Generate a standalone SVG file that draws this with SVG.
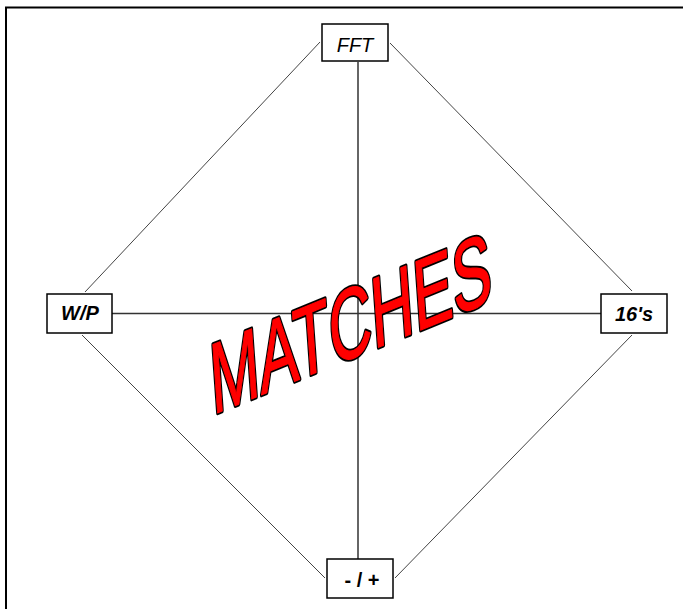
<svg xmlns="http://www.w3.org/2000/svg" width="683" height="609" viewBox="0 0 683 609">
<style>
.box{fill:#fff;stroke:#000;stroke-width:1.5}
.lbl{font-family:"Liberation Sans",Arial,sans-serif;font-size:20px;text-anchor:middle;fill:#000}
.diag{stroke:#444;stroke-width:1;fill:none}
.axis{stroke:#333;stroke-width:1.5;fill:none}
.big{font-family:"Liberation Sans",Arial,sans-serif;font-size:100px;vector-effect:non-scaling-stroke;stroke-linejoin:round}
</style>
<rect width="683" height="609" fill="#fff"/>
<path d="M6,609 V7.5 H683" fill="none" stroke="#000" stroke-width="2"/>
<g id="connectors">
<line class="diag" x1="320" y1="42" x2="85" y2="292"/>
<line class="diag" x1="390" y1="43" x2="632" y2="291"/>
<line class="diag" x1="82" y1="335" x2="325" y2="578"/>
<line class="diag" x1="632" y1="335" x2="395" y2="578"/>
<line class="axis" x1="358" y1="62" x2="358" y2="559"/>
<line class="axis" x1="112" y1="313.5" x2="601" y2="313.5"/>
</g>
<g id="matches" transform="matrix(0.583 -0.238 0.07 0.99 212.7 414.8)">
<text class="big" fill="#000" stroke="#000" stroke-width="4" vector-effect="non-scaling-stroke">MATCHES</text>
<text class="big" fill="#f00" stroke="#f00" stroke-width="1" vector-effect="non-scaling-stroke">MATCHES</text>
</g>
<g id="node-fft">
<rect class="box" x="322" y="24" width="66" height="37"/>
<text class="lbl" x="355" y="52" font-style="italic">FFT</text>
</g>
<g id="node-wp">
<rect class="box" x="47" y="294" width="65" height="39"/>
<text class="lbl" x="80" y="320" font-style="italic" font-weight="bold">W/P</text>
</g>
<g id="node-16s">
<rect class="box" x="601" y="294" width="66" height="39"/>
<text class="lbl" x="634" y="321" font-style="italic" font-weight="bold">16's</text>
</g>
<g id="node-minusplus">
<rect class="box" x="327" y="559" width="66" height="39"/>
<text class="lbl" x="362" y="587" font-weight="bold" xml:space="preserve">- / +</text>
</g>
</svg>
